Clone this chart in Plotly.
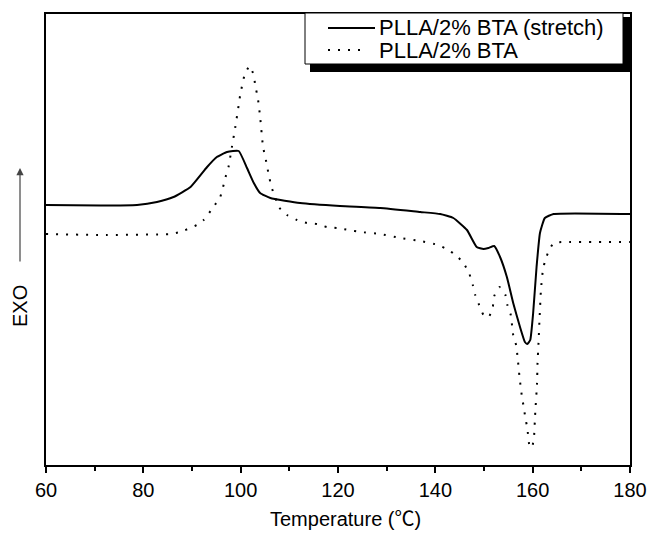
import plotly.graph_objects as go

# ---------------- data ----------------
# Heat flow in arbitrary units (EXO up)
temp_stretch = [60.0, 71.2, 78.7, 82.8, 86.2, 89.7, 93.1, 95.1, 97.2, 99.6, 101.3, 102.7,
                104.0, 106.1, 112.2, 120.4, 128.7, 136.9, 141.0, 143.7, 146.5, 148.5,
                149.9, 150.9, 152.1, 153.3, 154.7, 156.0, 157.4, 158.4, 158.9, 159.5,
                160.1, 160.8, 161.5, 162.5, 164.3, 180.0]
hf_stretch = [26.0, 25.95, 26.0, 26.3, 26.8, 27.8, 29.8, 30.8, 31.3, 31.4, 29.7, 28.2,
              27.2, 26.7, 26.2, 25.9, 25.7, 25.3, 25.1, 24.7, 23.5, 21.8,
              21.6, 21.7, 21.9, 20.8, 18.8, 16.2, 13.8, 12.3, 12.1, 12.5,
              15.2, 19.8, 23.2, 24.7, 25.1, 25.1]

temp_plain = [60.0, 71.2, 85.6, 87.6, 91.0, 92.4, 94.4, 95.8, 96.9, 97.5, 98.2, 98.9,
              99.6, 99.9, 100.8, 101.8, 102.7, 103.0, 103.5, 104.0, 104.6, 105.1,
              105.5, 105.9, 106.4, 108.0, 109.5, 111.6, 113.6, 115.7, 117.7, 119.8,
              122.2, 124.6, 128.7, 132.8, 136.9, 140.6, 142.7, 144.4, 145.8, 147.0,
              147.7, 148.2, 149.0, 149.9, 151.0, 151.8, 152.1, 153.2, 154.4, 154.8,
              155.5, 156.0, 156.6, 156.9, 157.3, 157.8, 158.2, 158.5, 158.9, 159.4,
              159.9, 160.3, 160.5, 160.9, 161.0, 161.2, 161.4, 161.7, 162.1, 162.6,
              163.3, 164.3, 166.3, 180.0]
hf_plain = [23.1, 23.0, 23.1, 23.3, 24.0, 24.5, 25.8, 26.8, 28.8, 29.8, 31.8, 33.8,
            36.0, 37.0, 39.0, 39.9, 39.0, 37.9, 36.8, 34.8, 31.8, 30.7,
            29.7, 28.7, 27.7, 25.7, 25.0, 24.5, 24.2, 24.1, 23.8, 23.7,
            23.5, 23.3, 23.1, 22.7, 22.4, 22.0, 21.5, 20.9, 20.2, 19.1,
            18.0, 17.0, 16.0, 15.0, 14.8, 15.8, 16.9, 17.8, 17.0, 16.0,
            15.0, 13.0, 12.0, 10.8, 8.8, 6.8, 5.7, 4.7, 3.7, 1.8,
            1.8, 3.0, 5.0, 8.2, 10.2, 12.2, 14.5, 17.5, 19.5, 20.5,
            21.4, 22.2, 22.3, 22.3]

x_ticks = [60, 80, 100, 120, 140, 160, 180]
name_stretch = "PLLA/2% BTA (stretch)"
name_plain = "PLLA/2% BTA"

# ---------------- layout geometry ----------------
W, H = 649, 533
ML, MR, MT, MB = 46, 19, 14, 68
PW, PH = W - ML - MR, H - MT - MB
FONT = "Liberation Sans, Arial, sans-serif"


def px(x):
    return (x - ML) / PW


def py(y):
    return (H - MB - y) / PH


fig = go.Figure()
fig.add_trace(go.Scatter(x=temp_stretch, y=hf_stretch, mode="lines", name=name_stretch,
                         line=dict(color="black", width=2, shape="spline", smoothing=0.4),
                         showlegend=False))
fig.add_trace(go.Scatter(x=temp_plain, y=hf_plain, mode="lines", name=name_plain,
                         line=dict(color="black", width=2, dash="2px,8px", shape="spline",
                                   smoothing=0.4),
                         showlegend=False))

shapes = []
annotations = []
# legend shadow and box
shapes.append(dict(type="rect", xref="paper", yref="paper", x0=px(310), x1=px(631),
                   y0=py(72), y1=py(17), fillcolor="black", line=dict(width=0), layer="above"))
shapes.append(dict(type="rect", xref="paper", yref="paper", x0=px(305), x1=px(623),
                   y0=py(64), y1=py(13), fillcolor="white",
                   line=dict(color="black", width=1), layer="above"))
# legend samples
shapes.append(dict(type="line", xref="paper", yref="paper", x0=px(328), x1=px(375),
                   y0=py(28), y1=py(28), line=dict(color="black", width=2), layer="above"))
shapes.append(dict(type="line", xref="paper", yref="paper", x0=px(328), x1=px(368),
                   y0=py(50), y1=py(50), line=dict(color="black", width=2, dash="2px,8px"),
                   layer="above"))
annotations.append(dict(xref="paper", yref="paper", x=px(377), y=py(28), text=name_stretch,
                        showarrow=False, xanchor="left", yanchor="middle",
                        font=dict(family=FONT, size=22, color="black")))
annotations.append(dict(xref="paper", yref="paper", x=px(377), y=py(50), text=name_plain,
                        showarrow=False, xanchor="left", yanchor="middle",
                        font=dict(family=FONT, size=22, color="black")))
# EXO label with arrow
annotations.append(dict(xref="paper", yref="paper", x=px(20), y=py(306), text="EXO",
                        textangle=-90, showarrow=False, xanchor="center", yanchor="middle",
                        font=dict(family=FONT, size=20, color="black")))
annotations.append(dict(xref="paper", yref="paper", x=px(20), y=py(168), text="",
                        showarrow=True, ax=0, ay=95, arrowhead=2, arrowsize=1.2,
                        arrowwidth=1.2, arrowcolor="#444444"))
# x-axis title
annotations.append(dict(xref="paper", yref="paper", x=px(345), y=py(517),
                        text="Temperature (<span style=\"font-family:'Noto Sans CJK SC'\">℃</span>)",
                        showarrow=False, xanchor="center", yanchor="middle",
                        font=dict(family=FONT, size=20, color="black")))

fig.update_layout(
    width=W, height=H,
    margin=dict(l=ML, r=MR, t=MT, b=MB, autoexpand=False),
    paper_bgcolor="white", plot_bgcolor="white",
    font=dict(family=FONT, size=20, color="black"),
    shapes=shapes, annotations=annotations,
    xaxis=dict(range=[60, 180], tickvals=x_ticks, ticktext=[str(v) for v in x_ticks],
               automargin=False,
               ticks="outside", ticklen=6, tickwidth=1.5, tickcolor="black",
               minor=dict(dtick=10, tick0=60, ticks="outside", ticklen=4, tickwidth=1.5,
                          tickcolor="black"),
               showline=True, linecolor="black", linewidth=2, mirror=True,
               showgrid=False, zeroline=False,
               tickfont=dict(family=FONT, size=20, color="black")),
    yaxis=dict(range=[0, 45.1], showticklabels=False, ticks="", automargin=False,
               showline=True, linecolor="black", linewidth=2, mirror=True,
               showgrid=False, zeroline=False),
)

fig.write_html("out.html")
